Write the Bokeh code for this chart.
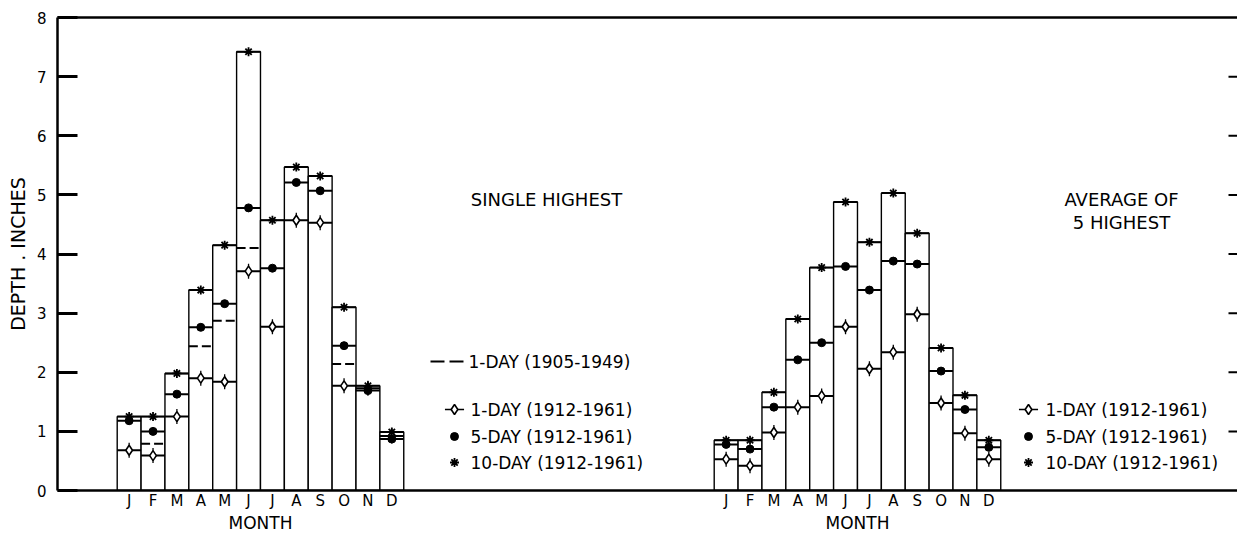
import numpy as np
from bokeh.plotting import figure
from bokeh.models import Range1d, LinearAxis, FixedTicker, Label
from bokeh.embed import file_html
from bokeh.resources import INLINE

# ---------------- data ----------------
months = ["J", "F", "M", "A", "M", "J", "J", "A", "S", "O", "N", "D"]

# Single highest (left panel)
single_10day = [1.25, 1.25, 1.98, 3.39, 4.15, 7.42, 4.57, 5.47, 5.32, 3.10, 1.77, 0.99]
single_5day = [1.18, 1.00, 1.63, 2.76, 3.16, 4.78, 3.76, 5.21, 5.07, 2.45, 1.69, 0.87]
single_1day = [0.68, 0.59, 1.25, 1.90, 1.84, 3.71, 2.77, 4.57, 4.53, 1.77, 1.73, 0.92]
single_1day_1905 = [np.nan, 0.79, np.nan, 2.44, 2.87, 4.10, np.nan, np.nan, np.nan, 2.14, np.nan, np.nan]

# Average of 5 highest (right panel)
avg_10day = [0.85, 0.85, 1.66, 2.90, 3.77, 4.88, 4.20, 5.03, 4.35, 2.41, 1.61, 0.85]
avg_5day = [0.78, 0.70, 1.41, 2.21, 2.50, 3.79, 3.39, 3.88, 3.83, 2.02, 1.37, 0.73]
avg_1day = [0.53, 0.42, 0.98, 1.41, 1.60, 2.77, 2.06, 2.34, 2.98, 1.48, 0.97, 0.53]

y_ticks = [0, 1, 2, 3, 4, 5, 6, 7, 8]
legend_labels = ["1-DAY (1912-1961)", "5-DAY (1912-1961)", "10-DAY (1912-1961)"]
dash_label = "1-DAY (1905-1949)"
axis_title = "MONTH"

FONT = "DejaVu Sans"

# ---------------- layout ----------------
LEFT_OFF = 3
RIGHT_OFF = 28
left_x = np.arange(12) + LEFT_OFF
right_x = np.arange(12) + RIGHT_OFF

W, H = 1237, 536
BL, BT, BB = 57, 17, 46
UNIT = 23.88
X0 = 0.0
X1 = X0 + (W - BL) / UNIT
FRAME_BOTTOM = H - BB
PX_PER_UNIT_Y = (H - BT - BB) / 8.0

p = figure(width=W, height=H, output_backend="svg", toolbar_location=None,
           x_range=Range1d(X0, X1), y_range=Range1d(0, 8),
           min_border_left=BL, min_border_right=0, min_border_top=BT, min_border_bottom=BB,
           background_fill_color="white", border_fill_color="white")
p.outline_line_color = None
p.xgrid.visible = False
p.ygrid.visible = False

# left axis
ya = p.yaxis[0]
ya.ticker = FixedTicker(ticks=y_ticks)
ya.major_tick_in = 20
ya.major_tick_out = 0
ya.minor_tick_in = 0
ya.minor_tick_out = 0
ya.major_tick_line_width = 3
ya.axis_line_width = 2.5
ya.major_label_standoff = 11
ya.major_label_text_font = FONT
ya.major_label_text_font_size = "15px"
ya.major_label_text_color = "black"
ya.axis_label = "DEPTH . INCHES"
ya.axis_label_text_font = FONT
ya.axis_label_text_font_style = "normal"
ya.axis_label_text_font_size = "19px"
ya.axis_label_text_color = "black"
ya.axis_label_standoff = 5

# bottom axis with month letters
xa = p.xaxis[0]
xa.ticker = FixedTicker(ticks=list(left_x) + list(right_x))
overrides = {}
for i, m in enumerate(months):
    overrides[int(left_x[i])] = m
    overrides[int(right_x[i])] = m
xa.major_label_overrides = overrides
xa.major_tick_in = 0
xa.major_tick_out = 0
xa.minor_tick_in = 0
xa.minor_tick_out = 0
xa.axis_line_width = 2.5
xa.major_label_standoff = 1
xa.major_label_text_font = FONT
xa.major_label_text_font_size = "15px"
xa.major_label_text_color = "black"

# second row under the months: "MONTH" centred under each panel
lc = float(np.mean(left_x))
rc = float(np.mean(right_x))
xa2 = LinearAxis(ticker=FixedTicker(ticks=[lc, rc]),
                 major_label_overrides={lc: axis_title, rc: axis_title},
                 axis_line_color=None, major_tick_in=0, major_tick_out=0,
                 minor_tick_in=0, minor_tick_out=0, major_label_standoff=0,
                 major_label_text_font=FONT, major_label_text_font_size="17px",
                 major_label_text_color="black")
p.add_layout(xa2, "below")

# top frame line (axis without ticks or labels)
top = LinearAxis(ticker=FixedTicker(ticks=[]), major_label_standoff=0,
                 major_tick_in=0, major_tick_out=0,
                 minor_tick_in=0, minor_tick_out=0, axis_line_width=2.5)
p.add_layout(top, "above")

# inward ticks along the right edge
inner = y_ticks[1:-1]
p.segment(x0=[X1 - 9 / UNIT] * len(inner), x1=[X1] * len(inner), y0=inner, y1=inner,
          line_color="black", line_width=2)


def panel(xs, v10, v5, v1, vdash=None):
    xs = np.asarray(xs, dtype=float)
    p.quad(left=xs - 0.5, right=xs + 0.5, bottom=0, top=v10,
           fill_color="white", line_color="black", line_width=1.4)
    p.segment(x0=xs - 0.5, x1=xs + 0.5, y0=v10, y1=v10, line_color="black", line_width=2)
    p.segment(x0=xs - 0.5, x1=xs + 0.5, y0=v5, y1=v5, line_color="black", line_width=2)
    p.segment(x0=xs - 0.5, x1=xs + 0.5, y0=v1, y1=v1, line_color="black", line_width=2)
    if vdash is not None:
        p.segment(x0=xs - 0.5, x1=xs + 0.5, y0=vdash, y1=vdash, line_color="black",
                  line_width=2, line_dash="9 4")
    p.scatter(xs, v1, marker="dash", angle=np.pi / 2, size=15, line_color="black", line_width=1.3)
    p.scatter(xs, v1, marker="diamond", size=10, fill_color="white", line_color="black", line_width=1.6)
    p.scatter(xs, v5, marker="circle", size=8, fill_color="black", line_color="black")
    p.scatter(xs, v10, marker="asterisk", size=9, line_color="black", line_width=1.8)


panel(left_x, single_10day, single_5day, single_1day, single_1day_1905)
panel(right_x, avg_10day, avg_5day, avg_1day)


def px2x(px):
    return X0 + (px - BL) / UNIT


def py2y(py):
    return (FRAME_BOTTOM - py) / PX_PER_UNIT_Y


def label(x, y, text, align="left", size="17px"):
    lab = Label(x=x, y=y, text=text, text_font=FONT, text_font_size=size,
                text_align=align, text_baseline="middle", text_color="black")
    p.add_layout(lab)


# titles
label(px2x(546), py2y(199), "SINGLE HIGHEST", align="center", size="18px")
label(px2x(1121), py2y(199), "AVERAGE OF", align="center", size="18px")
label(px2x(1121), py2y(222), "5 HIGHEST", align="center", size="18px")

# legends
p.segment(x0=[px2x(430)], x1=[px2x(467)], y0=[py2y(361)], y1=[py2y(361)],
          line_color="black", line_width=2, line_dash="14 5")
label(px2x(468), py2y(361), dash_label, size="17px")

rows = [py2y(409), py2y(436), py2y(462)]
for mx, tx in [(px2x(454), px2x(470)), (px2x(1028), px2x(1045))]:
    p.segment(x0=[mx - 0.4], x1=[mx + 0.4], y0=[rows[0]], y1=[rows[0]], line_color="black", line_width=1.5)
    p.scatter([mx], [rows[0]], marker="diamond", size=10, fill_color="white", line_color="black", line_width=1.6)
    p.scatter([mx], [rows[1]], marker="circle", size=8, fill_color="black", line_color="black")
    p.scatter([mx], [rows[2]], marker="asterisk", size=9, line_color="black", line_width=1.8)
    for r, t in zip(rows, legend_labels):
        label(tx, r, t, size="17px")

open("out.html", "w").write(file_html(p, INLINE))
